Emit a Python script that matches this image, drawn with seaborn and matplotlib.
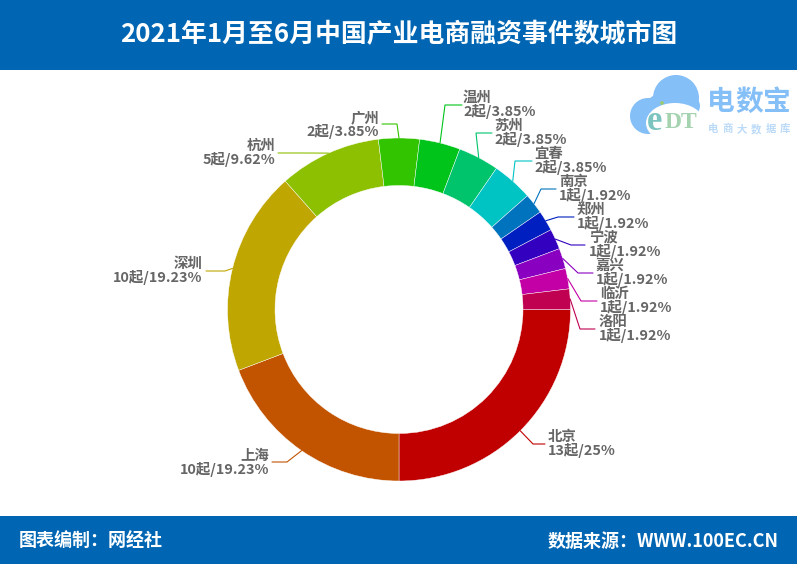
import matplotlib
matplotlib.use("Agg")
import matplotlib.pyplot as plt
import numpy as np
import seaborn as sns
from matplotlib.patches import Circle, Ellipse, Rectangle

cities = ["北京", "上海", "深圳", "杭州", "广州", "温州", "苏州", "宜春", "南京", "郑州", "宁波", "嘉兴", "临沂", "洛阳"]
counts = [13, 10, 10, 5, 2, 2, 2, 2, 1, 1, 1, 1, 1, 1]
shares = ["25%", "19.23%", "19.23%", "9.62%", "3.85%", "3.85%", "3.85%", "3.85%", "1.92%", "1.92%", "1.92%", "1.92%", "1.92%", "1.92%"]
slice_colors = ["#C00000", "#C25400", "#C0A600", "#8CC000", "#33C400", "#00C41A", "#00C46C",
                "#00C3C3", "#0073BE", "#001FC0", "#3300C0", "#8A00C0", "#C300A5", "#C00050"]

title = "2021年1月至6月中国产业电商融资事件数城市图"
footer_left = "图表编制：网经社"
footer_right = "数据来源：WWW.100EC.CN"

# label layout in pixels: text x, text y (between the two lines), elbow x, elbow y, line end x
label_layout = [
    (548, 444, 533, 444, 545), (269, 463, 287, 462, 272), (202, 271, 225, 271, 206),
    (275, 153, 300, 153, 278), (379, 125, 397, 124, 382), (463, 105, 445, 105, 462),
    (494, 133, 476, 133, 492), (534, 161, 515, 161, 532), (559, 189, 541, 189, 556),
    (577, 217, 558, 217, 574), (589, 245, 571, 245, 585), (596, 273, 578, 273, 593),
    (600, 301, 581, 301, 597), (599, 329, 580, 329, 595),
]

W, H = 797, 564
CX, CY, R_OUT, R_IN = 399, 309.5, 171.5, 124
BLUE = "#0066B3"
LOGO = "#85BFF7"

sns.set_theme(style="white")
plt.rcParams["font.family"] = ["Noto Sans CJK SC", "DejaVu Sans"]


def draw_logo(ax) -> None:
    for x, y, r in [(648, 116, 18), (676, 98, 23), (690, 106, 10), (660, 108, 14)]:
        ax.add_patch(Circle((x, y), r, color=LOGO, lw=0))
    ax.add_patch(Ellipse((675, 123), 58, 40, color="white", lw=0))
    ax.text(655, 121, "e", color="#7CC4C0", fontsize=25, fontweight="bold", ha="center", va="center",
            family="Liberation Serif")
    ax.text(681, 122, "DT", color="#A5D3B0", fontsize=17, fontweight="bold", ha="center", va="center",
            family="Liberation Serif")
    ax.add_patch(Circle((662, 103), 1.8, color="#9CCB6A", lw=0))
    for i, ch in enumerate("电数宝"):
        ax.text(721 + i * 28, 102, ch, color=LOGO, fontsize=20, fontweight="bold", ha="center", va="center")
    for i, ch in enumerate("电商大数据库"):
        ax.text(713 + i * 14.4, 129, ch, color="#BBDAF8", fontsize=7.5, fontweight="bold", ha="center", va="center")


def main() -> None:
    fig = plt.figure(figsize=(W / 100, H / 100), dpi=100, facecolor="white")

    palette = sns.color_palette(slice_colors)
    ax_pie = fig.add_axes([(CX - R_OUT) / W, (H - CY - R_OUT) / H, 2 * R_OUT / W, 2 * R_OUT / H])
    ax_pie.pie(counts, colors=palette, startangle=0, counterclock=False, radius=1,
               wedgeprops={"width": (R_OUT - R_IN) / R_OUT, "edgecolor": "white", "linewidth": 0.3})
    ax_pie.set_xlim(-1, 1)
    ax_pie.set_ylim(-1, 1)

    # overlay in pixel coordinates, y pointing down like the screenshot
    ax = fig.add_axes([0, 0, 1, 1], facecolor="none")
    ax.set_xlim(0, W)
    ax.set_ylim(H, 0)
    ax.axis("off")

    ax.add_patch(Rectangle((0, 0), W, 70, color=BLUE, lw=0))
    ax.add_patch(Rectangle((0, 516), W, 48, color=BLUE, lw=0))
    ax.text(399, 35, title, color="white", fontsize=18.6, fontweight="bold", ha="center", va="center")
    ax.text(19, 541, footer_left, color="white", fontsize=13, fontweight="bold", ha="left", va="center")
    ax.text(779, 541, footer_right, color="white", fontsize=13, fontweight="bold", ha="right", va="center")

    # leader lines start on the outer edge at each slice's middle
    total = sum(counts)
    ends = np.cumsum(counts)
    mids = (ends - np.array(counts) / 2) / total * 2 * np.pi
    for i, city in enumerate(cities):
        tx, ty, ex, ey, lx = label_layout[i]
        sx = CX + R_OUT * np.cos(mids[i])
        sy = CY + R_OUT * np.sin(mids[i])
        ax.plot([sx, ex, lx], [sy, ey, ey], color=slice_colors[i], lw=0.8, solid_joinstyle="miter")
        ha = "right" if tx < CX else "left"
        text = f"{city}\n{counts[i]}起/{shares[i]}"
        ax.text(tx, ty, text, color="#666666", fontsize=10.4, fontweight="bold", ha=ha, va="center",
                linespacing=0.95, multialignment=ha)

    draw_logo(ax)

    fig.savefig("out.png", dpi=100, facecolor="white")
    plt.close(fig)


if __name__ == "__main__":
    main()
